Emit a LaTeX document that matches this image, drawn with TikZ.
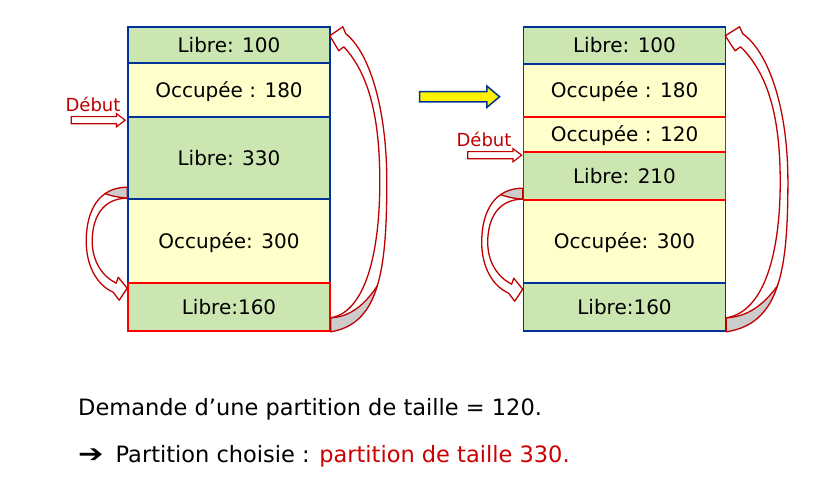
\documentclass[tikz,border=0pt]{standalone}
\usepackage{fontspec}
\usepackage{graphicx}
\setmainfont{DejaVu Sans}
\usetikzlibrary{shapes.arrows}

\definecolor{librefill}{RGB}{204,230,178}
\definecolor{occupfill}{RGB}{255,255,204}
\definecolor{memblue}{RGB}{0,51,153}
\definecolor{arcred}{RGB}{192,0,0}
\definecolor{textred}{RGB}{204,0,0}

% outline of the big curved arrow (origin = tail, y grows downwards)
\newcommand{\bigarcpath}{(0,-14) .. controls (35,-20) and (49,-80) .. (49,-150)
  .. controls (49,-215) and (38,-258) .. (13,-285) -- (8,-281) -- (-1,-296)
  -- (12,-305) -- (15,-298) .. controls (38,-280) and (56,-225) .. (56,-150)
  .. controls (56,-60) and (48,-8) .. (0,0) -- cycle}
% outline of the small curved arrow (origin = tail, y grows downwards)
\newcommand{\smallarcpath}{(0,0) .. controls (-25,0) and (-35,20) .. (-35,43)
  .. controls (-35,63) and (-25,78) .. (-11,85) -- (-9,79) -- (0,90)
  -- (-8,102) -- (-14,94) .. controls (-30,87) and (-41,68) .. (-41,43)
  .. controls (-41,12) and (-28,-11) .. (0,-11) -- cycle}

\tikzset{
  block/.style={draw=memblue, line width=1.6pt, minimum width=202pt, inner sep=0pt,
    text height=14.6pt, text depth=0pt, font=\fontsize{20}{24}\selectfont},
  libre/.style={block, fill=librefill},
  occupee/.style={block, fill=occupfill},
  choisie/.style={draw=red},
  debut/.style={text=arcred, inner sep=0pt, font=\fontsize{18}{22}\selectfont},
  debutarrow/.style={single arrow, draw=arcred, fill=white, line width=1.2pt,
    minimum height=54pt, text height=3pt, text depth=3pt, single arrow head extend=3pt,
    single arrow tip angle=74, inner sep=0pt},
  steparrow/.style={single arrow, draw=memblue, fill=yellow, line width=1.5pt,
    minimum height=80pt, text height=4.4pt, text depth=4.4pt, single arrow head extend=5.6pt,
    single arrow tip angle=80, inner sep=0pt},
  arcband/.style={draw=arcred, line width=1.3pt, line join=round},
  legende/.style={anchor=base west, inner sep=0pt, font=\fontsize{22.5}{27}\selectfont},
}

\begin{document}
\begin{tikzpicture}[x=1pt, y=-1pt]
    \useasboundingbox (0,0) rectangle (826,490);

    % Memory before allocation
    \node[libre, minimum height=36pt] (l1) at (229,45) {Libre: 100};
    \node[occupee, minimum height=54pt] (l2) at (229,90) {Occupée : 180};
    \node[libre, minimum height=82pt] (l3) at (229,158) {Libre: 330};
    \node[occupee, minimum height=84pt] (l4) at (229,241) {Occupée: 300};
    \node[libre, choisie, minimum height=48pt] (l5) at (229,307) {Libre:160};

    % Memory after allocation
    \node[libre, minimum height=37pt] (r1) at (624.5,45.5) {Libre: 100};
    \node[occupee, minimum height=53pt] (r2) at (624.5,90.5) {Occupée : 180};
    \node[occupee, minimum height=83pt] (r5) at (624.5,241.5) {Occupée: 300};
    \node[libre, minimum height=48pt] (r6) at (624.5,307) {Libre:160};
    \node[occupee, choisie, minimum height=35pt] (r3) at (624.5,134.5) {Occupée : 120};
    \node[libre, choisie, minimum height=48pt] (r4) at (624.5,176) {Libre: 210};

    % Transition
    \node[steparrow] (etape) at (456.5,96.7) {};

    % Start pointers
    \node[debut] (debutL) at (93,104) {Début};
    \node[debutarrow, anchor=tip] (flecheL) at ([shift={(-1,4)}]l3.north west) {};
    \node[debut] (debutR) at (484,139) {Début};
    \node[debutarrow, anchor=tip] (flecheR) at ([shift={(0,4)}]r4.north west) {};

    % Wrap-around arrows: last block back to first block
    \foreach \bas/\sx in {l5/1, r6/1.1} {
      \begin{scope}[shift={(\bas.south east)}, xscale=\sx]
        \fill[white] \bigarcpath;
        \begin{scope}
          \clip \bigarcpath;
          \fill[gray!40] (0,-14) .. controls (18,-15) and (35,-25) .. (52,-55) -- (80,0) -- (0,10) -- cycle;
          \draw[arcband] (0,-14) .. controls (18,-15) and (35,-25) .. (52,-55);
        \end{scope}
        \draw[arcband] \bigarcpath;
      \end{scope}
    }

    % Short arrows: from the free block to the next free block
    \foreach \haut in {l4, r5} {
      \begin{scope}[shift={(\haut.north west)}]
        \fill[white] \smallarcpath;
        \begin{scope}
          \clip \smallarcpath;
          \fill[gray!40] (0,0) .. controls (-12,-1) and (-25,-4) .. (-38,-12) -- (-45,-25) -- (5,-25) -- cycle;
          \draw[arcband] (0,0) .. controls (-12,-1) and (-25,-4) .. (-38,-12);
        \end{scope}
        \draw[arcband] \smallarcpath;
      \end{scope}
    }

    % Request and choice
    \node[legende] (demande) at (78,415) {Demande d’une partition de taille = 120.};
    \node[legende] (choix) at (78,462) {\scalebox{1.35}[1.1]{➔}\hspace{12pt}Partition choisie : \textcolor{textred}{partition de taille 330.}};
\end{tikzpicture}
\end{document}
